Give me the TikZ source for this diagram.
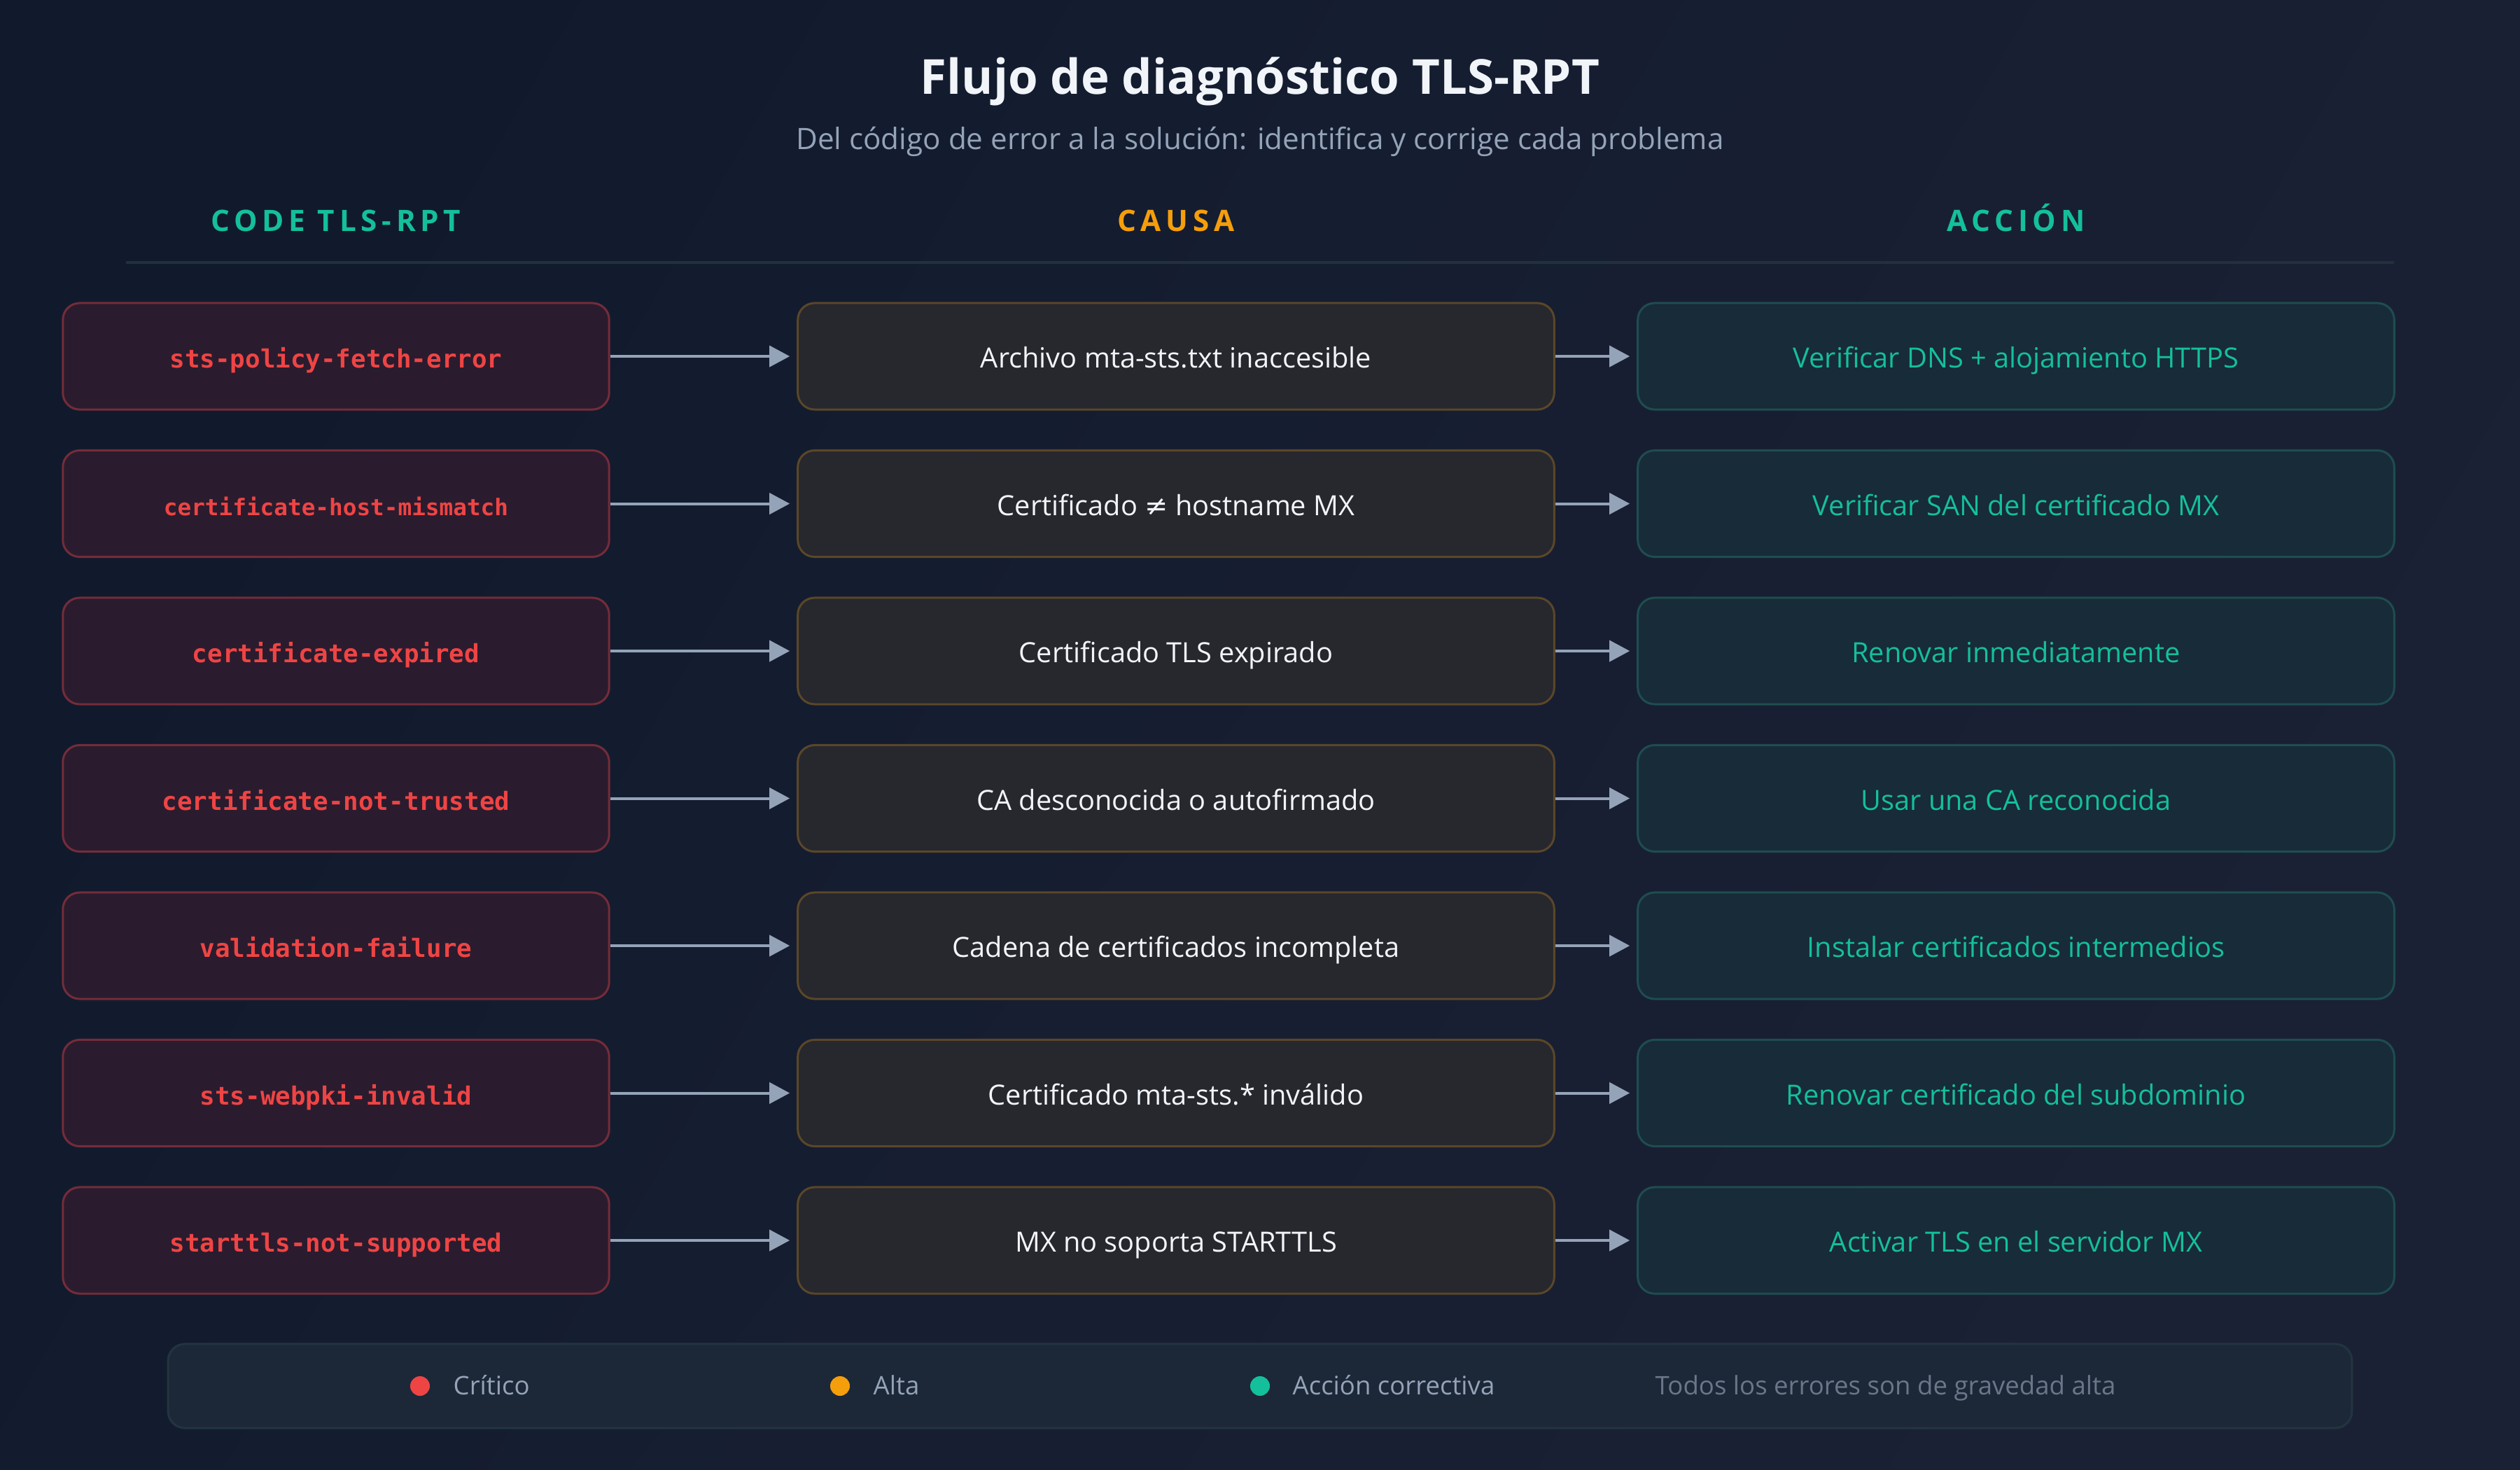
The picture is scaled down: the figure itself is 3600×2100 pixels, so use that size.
\documentclass[tikz,border=0pt]{standalone}
\usepackage{fontspec}
\setmainfont{Open Sans}
\setmonofont{DejaVu Sans Mono}
\newfontfamily\hdrfont[LetterSpace=16]{Open Sans}
\newfontfamily\symfont{DejaVu Sans}
\usetikzlibrary{arrows.meta}
\definecolor{bgA}{HTML}{111A2D}
\definecolor{bgB}{HTML}{1B2135}
\definecolor{titlec}{HTML}{F1F5F9}
\definecolor{subc}{HTML}{94A3B8}
\definecolor{tealc}{HTML}{14BF9C}
\definecolor{amberc}{HTML}{F59E0B}
\definecolor{redc}{HTML}{EF4444}
\definecolor{errfill}{HTML}{2A1C2E}
\definecolor{errdraw}{HTML}{742C39}
\definecolor{caufill}{HTML}{27272E}
\definecolor{caudraw}{HTML}{5A4728}
\definecolor{actfill}{HTML}{182B38}
\definecolor{actdraw}{HTML}{1E4D50}
\definecolor{legfill}{HTML}{1C2838}
\definecolor{legdraw}{HTML}{22353F}
\definecolor{linec}{HTML}{22313A}
\definecolor{mutedc}{HTML}{6B7789}
\tikzset{
  x=0.01cm, y=-0.01cm,
  basebox/.style={rounded corners=0.24cm, line width=0.03cm, minimum height=1.52cm, inner sep=0pt, anchor=center, text height=0.96em, text depth=0pt},
  errbox/.style={basebox, fill=errfill, draw=errdraw, minimum width=7.8cm, text=redc, font=\ttfamily\bfseries\fontsize{10.2}{12}\selectfont},
  caubox/.style={basebox, fill=caufill, draw=caudraw, minimum width=10.8cm, text=titlec, font=\fontsize{11.3}{13}\selectfont},
  actbox/.style={basebox, fill=actfill, draw=actdraw, minimum width=10.8cm, text=tealc, font=\fontsize{11.3}{13}\selectfont},
  flow/.style={draw=subc, line width=0.04cm, -{Triangle[length=0.29cm,width=0.30cm]}, shorten >=0.1cm},
  hdr/.style={font=\hdrfont\bfseries\fontsize{12}{14}\selectfont, anchor=base},
  legtxt/.style={font=\fontsize{10.4}{12}\selectfont, text=subc, anchor=base west, inner sep=0pt},
  dot/.style={circle, inner sep=0pt, minimum size=0.28cm}
}
\begin{document}
\begin{tikzpicture}
\useasboundingbox (0,0) rectangle (3600,2100);
\shade[left color=bgA, right color=bgB, shading angle=60] (0,0) rectangle (3600,2100);
\fill[bgB, opacity=0.3] (2600,0) -- (3600,0) -- (3600,2100) -- (900,2100) -- cycle;

\node[font=\bfseries\fontsize{19.6}{24}\selectfont, text=titlec, anchor=base] (title) at (1800,135) {Flujo de diagnóstico TLS-RPT};
\node[font=\fontsize{12}{14}\selectfont, text=subc, anchor=base] (sub) at (1800,213) {Del código de error a la solución: identifica y corrige cada problema};

\node[hdr, text=tealc] (h1) at (480,330) {CODE TLS-RPT};
\node[hdr, text=amberc] (h2) at (1680,330) {CAUSA};
\node[hdr, text=tealc] (h3) at (2880,330) {ACCIÓN};
\coordinate (hl1) at (180,375);
\coordinate (hl2) at (3420,375);
\draw[linec, line width=0.035cm] (hl1) -- (hl2);

\foreach \i/\e/\c/\a in {
 1/sts-policy-fetch-error/Archivo mta-sts.txt inaccesible/Verificar DNS + alojamiento HTTPS,
 2/{\fontsize{9.3}{11}\selectfont certificate-host-mismatch}/{Certificado {\symfont ≠} hostname MX}/Verificar SAN del certificado MX,
 3/certificate-expired/Certificado TLS expirado/Renovar inmediatamente,
 4/certificate-not-trusted/CA desconocida o autofirmado/Usar una CA reconocida,
 5/validation-failure/Cadena de certificados incompleta/Instalar certificados intermedios,
 6/sts-webpki-invalid/Certificado mta-sts.* inválido/Renovar certificado del subdominio,
 7/starttls-not-supported/MX no soporta STARTTLS/Activar TLS en el servidor MX}{
  \pgfmathsetmacro{\yy}{509+210.5*(\i-1)}
  \node[errbox] (e\i) at (480,\yy) {\e};
  \node[caubox] (c\i) at (1680,\yy) {\c};
  \node[actbox] (a\i) at (2880,\yy) {\a};
  \draw[flow] (e\i) -- (c\i);
  \draw[flow] (c\i) -- (a\i);
}

\node[rounded corners=0.24cm, fill=legfill, draw=legdraw, line width=0.03cm, minimum width=31.18cm, minimum height=1.2cm, inner sep=0pt] (leg) at (1800,1980) {};
\node[dot, fill=redc] (d1) at (600,1980) {};
\node[legtxt] (l1) at (647,1992) {Crítico};
\node[dot, fill=amberc] (d2) at (1200,1980) {};
\node[legtxt] (l2) at (1247,1992) {Alta};
\node[dot, fill=tealc] (d3) at (1800,1980) {};
\node[legtxt] (l3) at (1846,1992) {Acción correctiva};
\node[legtxt, text=mutedc] (l4) at (2364,1992) {Todos los errores son de gravedad alta};
\end{tikzpicture}
\end{document}
